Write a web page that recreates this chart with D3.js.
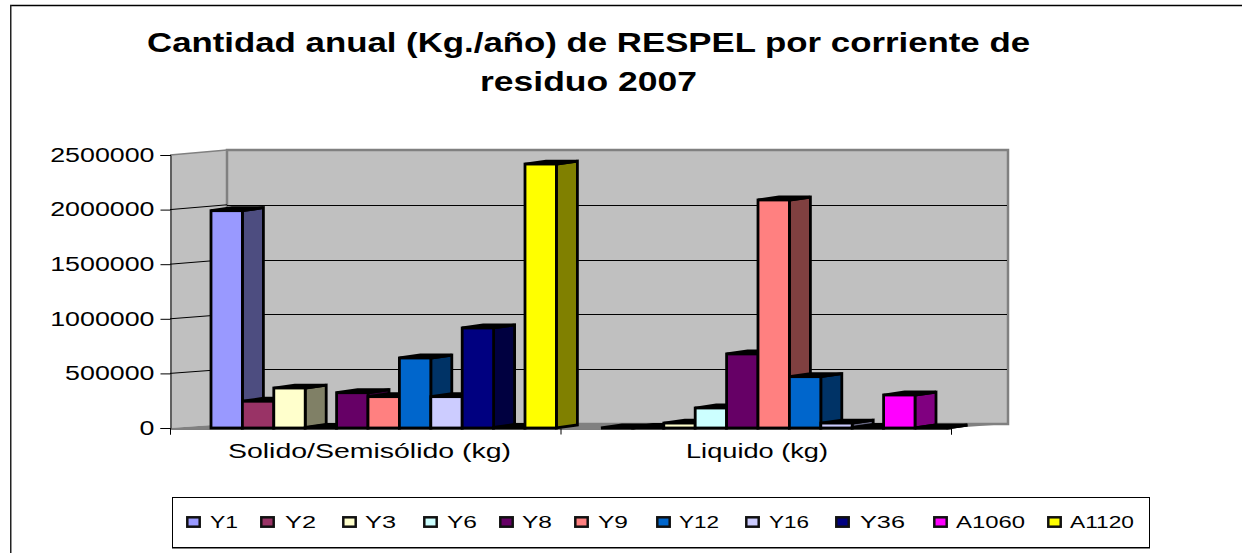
<!DOCTYPE html>
<html><head><meta charset="utf-8">
<script src="https://cdnjs.cloudflare.com/ajax/libs/d3/7.8.5/d3.min.js"></script>
<style>html,body{margin:0;padding:0;background:#fff}svg{display:block}text{font-family:"Liberation Sans",Arial,sans-serif;fill:#000}</style>
</head><body><svg id="c" width="1242" height="553"></svg>
<script>
const categories = ["Solido/Semisólido (kg)", "Liquido (kg)"];
const seriesNames = ["Y1","Y2","Y3","Y6","Y8","Y9","Y12","Y16","Y36","A1060","A1120"];
const seriesColors = ["#9999FF","#993366","#FFFFCC","#CCFFFF","#660066","#FF8080","#0066CC","#CCCCFF","#000080","#FF00FF","#FFFF00"];
const solidoValues = [1990000,245000,366000,5000,323000,287000,641000,287000,916000,5000,2417000];
const liquidoValues = [0,5000,45000,183000,678000,2088000,470000,45000,5000,302000,0];
const yTicks = [0,500000,1000000,1500000,2000000,2500000];
const titleLines = ["Cantidad anual (Kg./año) de RESPEL por corriente de","residuo 2007"];
// layout
const titleWidths = [883,217];
const catCenters = [369.5,757];
const catWidths = [283,142];
const legendX = [187,261,343,424,500,575,657,746,836,934,1048];
const legendTextX = [210,285,365,447,522,598,679,769,860,956,1070];
const legendTextW = [28,31,31,30,30,30,40,40,45,69,64];

const svg = d3.select("#c");
const X0=170,X1=951,Y0=428,YT=155,DX=57,BY0=424,BYT=150;
const BDX=21,BDY=-3;
const y = d3.scaleLinear().domain([0,2500000]).range([Y0,YT]);
const yBack = d3.scaleLinear().domain([0,2500000]).range([BY0,BYT]);
const x0 = d3.scaleBand().domain(categories).range([X0,X1]);
const x1 = d3.scaleBand().domain(seriesNames).range([41,41+31.4*11]);
const pts=a=>a.map(p=>p.join(",")).join(" ");
const fit=(s,w)=>s.attr("textLength",w).attr("lengthAdjust","spacingAndGlyphs");

// outer frame: only the top and left edges show in the picture
svg.append("line").attr("x1",10).attr("x2",1242).attr("y1",5.5).attr("y2",5.5).attr("stroke","#000").attr("stroke-width",1.5);
svg.append("line").attr("x1",10.75).attr("x2",10.75).attr("y1",5).attr("y2",553).attr("stroke","#222").attr("stroke-width",1.5);

// walls & floor
svg.append("polygon").attr("points",pts([[X0,YT],[X0+DX,BYT],[X0+DX,BY0],[X0,Y0]])).attr("fill","#c0c0c0");
svg.append("line").attr("x1",X0).attr("y1",YT).attr("x2",X0+DX).attr("y2",BYT).attr("stroke","#808080").attr("stroke-width",1.5);
svg.append("rect").attr("x",X0+DX).attr("y",BYT).attr("width",X1-X0).attr("height",BY0-BYT).attr("fill","#c0c0c0").attr("stroke","#808080").attr("stroke-width",2.5);
svg.append("polygon").attr("points",pts([[X0,Y0],[X0+DX,BY0],[X1+DX,BY0],[X1,Y0]])).attr("fill","#808080");
const grid=yTicks.filter(d=>d>0&&d<2500000);
svg.selectAll(".gb").data(grid).enter().append("line").attr("x1",X0+DX).attr("x2",X1+DX-1).attr("y1",d=>Math.round(yBack(d))+.5).attr("y2",d=>Math.round(yBack(d))+.5).attr("stroke","#000");
svg.selectAll(".gl").data(grid).enter().append("line").attr("x1",X0).attr("x2",X0+DX).attr("y1",d=>y(d)).attr("y2",d=>yBack(d)).attr("stroke","#000");

// axes
const ya=svg.append("g").attr("transform",`translate(${X0+.5},0)`).call(d3.axisLeft(y).tickValues(yTicks).tickFormat(d3.format("d")).tickSize(10).tickPadding(6));
ya.selectAll("text").attr("font-size",19.5).attr("fill","#000").attr("font-family","Liberation Sans").each(function(d){fit(d3.select(this),String(d).length*14.9);});
ya.select(".domain").attr("stroke","#000");
const xa=svg.append("g").attr("transform",`translate(0,${Y0+.5})`).call(d3.axisBottom(d3.scalePoint().domain([0,1,2]).range([X0,X1])).tickSize(6).tickFormat(""));
xa.select(".domain").attr("stroke","#000");

// bars
const rows=[solidoValues,liquidoValues];
categories.forEach((cat,ci)=>{
  const g=svg.append("g");
  const bw=x1.bandwidth();
  const items=g.selectAll("g").data(seriesNames.map((s,i)=>({s,i,v:rows[ci][i]}))).enter().append("g");
  const L=d=>x0(cat)+x1(d.s)-(ci?0.5:0), R=d=>L(d)+bw, T=d=>y(d.v);
  const half=d=>{const c=d3.rgb(seriesColors[d.i]);return d3.rgb(c.r/2,c.g/2,c.b/2).formatHex();};
  const style=s=>s.attr("stroke","#000").attr("stroke-width",2.8).attr("stroke-linejoin","miter");
  items.append("polygon").attr("points",d=>pts([[R(d),T(d)],[R(d)+BDX,T(d)+BDY],[R(d)+BDX,Y0+BDY],[R(d),Y0]])).attr("fill",half).call(style);
  items.append("polygon").attr("points",d=>pts([[L(d),T(d)],[L(d)+BDX,T(d)+BDY],[R(d)+BDX,T(d)+BDY],[R(d),T(d)]])).attr("fill","#000").call(style);
  items.append("rect").attr("x",L).attr("y",T).attr("width",bw).attr("height",d=>Y0-T(d)).attr("fill",d=>seriesColors[d.i]).call(style);
});

// category labels
svg.selectAll(".cat").data(categories).enter().append("text").attr("x",(d,i)=>catCenters[i]).attr("y",458).attr("text-anchor","middle").attr("font-size",19.5).attr("textLength",(d,i)=>catWidths[i]).attr("lengthAdjust","spacingAndGlyphs").text(d=>d);
// title
svg.selectAll(".t").data(titleLines).enter().append("text").attr("x",588.5).attr("y",(d,i)=>52+i*39).attr("text-anchor","middle").attr("font-size",28).attr("font-weight","bold").attr("textLength",(d,i)=>titleWidths[i]).attr("lengthAdjust","spacingAndGlyphs").text(d=>d);

// legend
svg.append("rect").attr("x",172.5).attr("y",497.5).attr("width",977).attr("height",50).attr("fill","#fff").attr("stroke","#000");
svg.append("line").attr("x1",172).attr("x2",1150).attr("y1",548.5).attr("y2",548.5).attr("stroke","#808080");
const lg=svg.selectAll(".lg").data(seriesNames).enter().append("g");
lg.append("rect").attr("x",(d,i)=>legendX[i]+.3).attr("y",517.3).attr("width",12.4).attr("height",9.4).attr("fill",(d,i)=>seriesColors[i]).attr("stroke","#111").attr("stroke-width",2.5);
lg.append("text").attr("x",(d,i)=>legendTextX[i]).attr("y",528).attr("font-size",17).attr("textLength",(d,i)=>legendTextW[i]).attr("lengthAdjust","spacingAndGlyphs").text(d=>d);
</script></body></html>
